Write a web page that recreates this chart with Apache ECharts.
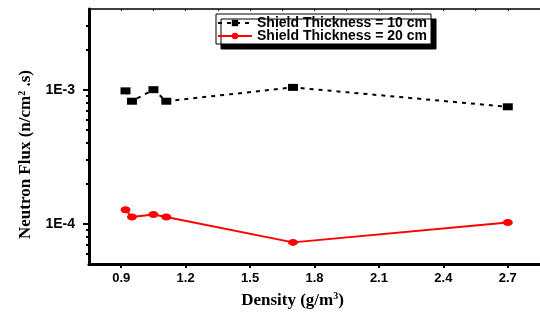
<!DOCTYPE html>
<html>
<head>
<meta charset="utf-8">
<script src="https://cdn.jsdelivr.net/npm/echarts@6/dist/echarts.min.js"></script>
<style>
  html, body { margin: 0; padding: 0; background: #fff; }
  #chart { width: 540px; height: 316px; }
</style>
</head>
<body>
<div id="chart"></div>
<script>
// densities (g/m3) and flux values
const density = [0.92, 0.95, 1.05, 1.11, 1.70, 2.70]
const flux10cm = [9.8e-4, 8.2e-4, 1.0e-3, 8.2e-4, 1.04e-3, 7.45e-4]
const flux20cm = [1.27e-4, 1.12e-4, 1.17e-4, 1.12e-4, 7.25e-5, 1.02e-4]
const seriesNames = ['Shield Thickness = 10 cm', 'Shield Thickness = 20 cm']

const xMajor = [0.9, 1.2, 1.5, 1.8, 2.1, 2.4, 2.7]
const xMinor = [1.05, 1.35, 1.65, 1.95, 2.25, 2.55]
const xTop = [0.9, 1.05, 1.2, 1.35, 1.5, 1.65, 1.8, 1.95, 2.1, 2.25, 2.4, 2.55, 2.7]
const yMajor = [1e-4, 1e-3]
const yMinor = [6e-5, 7e-5, 8e-5, 9e-5, 2e-4, 3e-4, 4e-4, 5e-4, 6e-4, 7e-4, 8e-4, 9e-4, 2e-3, 3e-3]

const tickFont = { fontFamily: 'Liberation Sans, Arial', fontWeight: 'bold', fontSize: 13, color: '#000' }
const serif = 'Liberation Serif, Times New Roman'

const pairs = arr => density.map((d, i) => [d, arr[i]])

const chart = echarts.init(document.getElementById('chart'))

const xRange = { type: 'value', min: 0.75, max: 2.85, splitLine: { show: false } }
const yRange = { type: 'log', logBase: 10, min: 5e-5, max: 4e-3, splitLine: { show: false } }

chart.setOption({
  animation: false,
  grid: { left: 89, top: 9, width: 454, height: 255, containLabel: false },
  legend: {
    orient: 'vertical',
    left: 216,
    top: 14,
    padding: [2, 4, 1, 1],
    itemGap: -1,
    itemWidth: 34,
    itemHeight: 8,
    backgroundColor: '#fff',
    borderColor: '#000',
    borderWidth: 1,
    shadowColor: '#000',
    shadowBlur: 0,
    shadowOffsetX: 5,
    shadowOffsetY: 5,
    textStyle: { ...tickFont, fontSize: 14, padding: [0, 0, 0, 0] },
    data: seriesNames
  },
  xAxis: [
    {
      ...xRange,
      position: 'bottom',
      axisLine: { onZero: false, lineStyle: { color: '#000', width: 3 } },
      axisTick: { customValues: xMajor, length: 4, lineStyle: { color: '#000', width: 2 } },
      axisLabel: { customValues: xMajor, margin: 8, formatter: v => v.toFixed(1), ...tickFont },
      name: '{a|Density (g/m}{s|3}{a|)}',
      nameLocation: 'middle',
      nameGap: 27,
      nameTextStyle: {
        padding: [0, 44, 0, 0],
        rich: {
          a: { fontFamily: serif, fontWeight: 'bold', fontSize: 17, color: '#000' },
          s: { fontFamily: serif, fontWeight: 'bold', fontSize: 10, color: '#000', verticalAlign: 'top', padding: [0, 0, 9, 0] }
        }
      }
    },
    {
      ...xRange,
      position: 'bottom',
      axisLine: { show: false, onZero: false },
      axisTick: { customValues: xMinor, length: 2, lineStyle: { color: '#000', width: 2 } },
      axisLabel: { show: false }
    },
    {
      ...xRange,
      position: 'top',
      axisLine: { onZero: false, lineStyle: { color: '#000', width: 1.5 } },
      axisTick: { inside: true, customValues: xTop, length: 2, lineStyle: { color: '#000', width: 1 } },
      axisLabel: { show: false }
    }
  ],
  yAxis: [
    {
      ...yRange,
      position: 'left',
      axisLine: { show: true, onZero: false, lineStyle: { color: '#000', width: 3 } },
      axisTick: { show: true, customValues: yMajor, length: 6, lineStyle: { color: '#000', width: 2 } },
      axisLabel: { customValues: yMajor, margin: 14, formatter: v => '1E' + Math.round(Math.log10(v)), ...tickFont, fontSize: 14 },
      name: '{a|Neutron Flux (n/cm}{s|2}{a| .s)}',
      nameLocation: 'middle',
      nameGap: 52,
      nameTextStyle: {
        padding: [0, 36, 0, 0],
        rich: {
          a: { fontFamily: serif, fontWeight: 'bold', fontSize: 17, color: '#000' },
          s: { fontFamily: serif, fontWeight: 'bold', fontSize: 10, color: '#000', verticalAlign: 'top', padding: [0, 0, 8, 0] }
        }
      }
    },
    {
      ...yRange,
      position: 'left',
      axisLine: { show: false, onZero: false },
      axisTick: { show: true, customValues: yMinor, length: 3, lineStyle: { color: '#000', width: 2 } },
      axisLabel: { show: false }
    }
  ],
  series: [
    {
      name: seriesNames[0],
      type: 'line',
      data: pairs(flux10cm),
      symbol: 'rect',
      symbolSize: [10, 7],
      itemStyle: { color: '#000' },
      lineStyle: { color: '#000', width: 2, type: [4, 5] }
    },
    {
      name: seriesNames[1],
      type: 'line',
      data: pairs(flux20cm),
      symbol: 'circle',
      symbolSize: [10, 7],
      itemStyle: { color: '#ff0000' },
      lineStyle: { color: '#ff0000', width: 2 }
    }
  ]
})
</script>
</body>
</html>
